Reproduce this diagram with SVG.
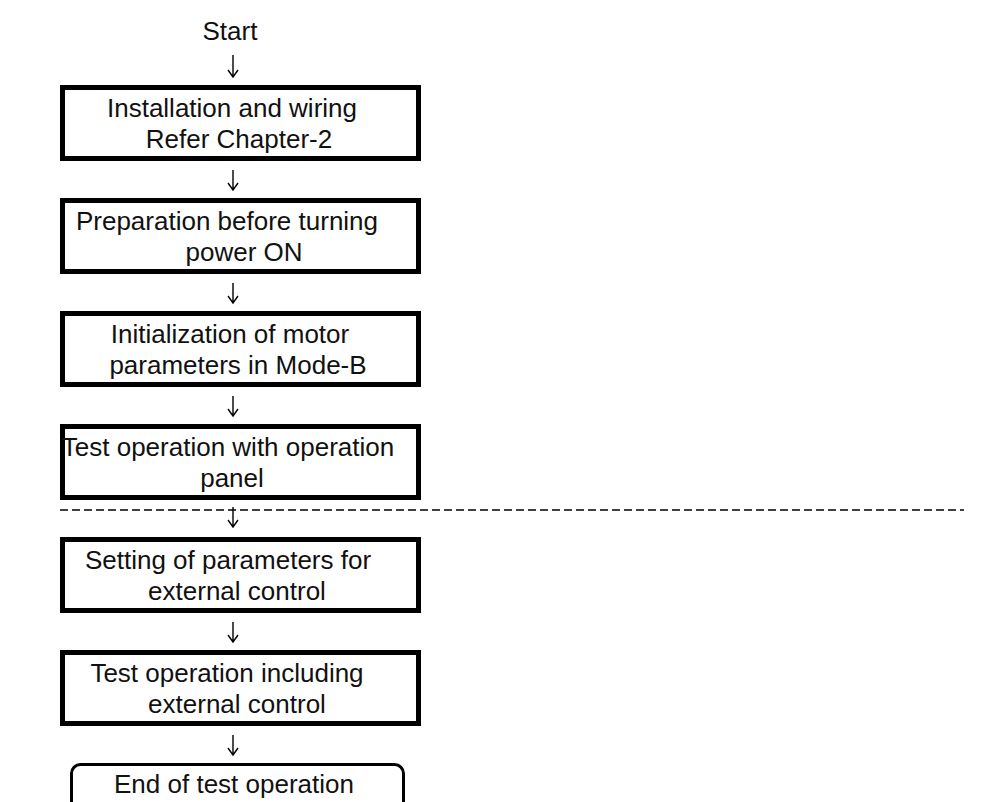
<svg xmlns="http://www.w3.org/2000/svg" width="982" height="802" viewBox="0 0 982 802">
  <style>
    .step { fill: #ffffff; stroke: #000000; stroke-width: 5; }
    .term { fill: #ffffff; stroke: #000000; stroke-width: 3; }
    .lbl { font-family: "Liberation Sans", Arial, sans-serif; font-size: 26px; fill: #111111; text-anchor: middle; }
    .flow { fill: none; stroke: #000000; stroke-width: 1.4; }
    .divider { fill: none; stroke: #000000; stroke-width: 1.3; stroke-dasharray: 8 4; }
  </style>
  <rect width="982" height="802" fill="#ffffff"/>

  <!-- phase divider -->
  <line class="divider" x1="60" y1="510" x2="964" y2="510"/>

  <g id="start">
    <text class="lbl" x="230" y="40">Start</text>
  </g>

  <g id="step-install">
    <rect class="step" x="62.5" y="87.5" width="356" height="71"/>
    <text class="lbl" x="232" y="117">Installation and wiring</text>
    <text class="lbl" x="239" y="148">Refer Chapter-2</text>
  </g>

  <g id="step-prepare">
    <rect class="step" x="62.5" y="200.5" width="356" height="71"/>
    <text class="lbl" x="227" y="230">Preparation before turning</text>
    <text class="lbl" x="244" y="261">power ON</text>
  </g>

  <g id="step-init">
    <rect class="step" x="62.5" y="313.5" width="356" height="71"/>
    <text class="lbl" x="230" y="343">Initialization of motor</text>
    <text class="lbl" x="238" y="374">parameters in Mode-B</text>
  </g>

  <g id="step-panel-test">
    <rect class="step" x="62.5" y="426.5" width="356" height="71"/>
    <text class="lbl" x="228" y="456">Test operation with operation</text>
    <text class="lbl" x="232" y="487">panel</text>
  </g>

  <g id="step-ext-params">
    <rect class="step" x="62.5" y="539.5" width="356" height="71"/>
    <text class="lbl" x="228" y="569">Setting of parameters for</text>
    <text class="lbl" x="237" y="600">external control</text>
  </g>

  <g id="step-ext-test">
    <rect class="step" x="62.5" y="652.5" width="356" height="71"/>
    <text class="lbl" x="227" y="682">Test operation including</text>
    <text class="lbl" x="237" y="713">external control</text>
  </g>

  <g id="end">
    <rect class="term" x="71.5" y="764.5" width="332" height="60" rx="9"/>
    <text class="lbl" x="234" y="793">End of test operation</text>
  </g>

  <g id="connectors">
    <path class="flow" d="M233 55 V77 M228 70 L233 77 L238 70"/>
    <path class="flow" d="M233 170 V190 M228 183 L233 190 L238 183"/>
    <path class="flow" d="M233 283 V303 M228 296 L233 303 L238 296"/>
    <path class="flow" d="M233 396 V416 M228 409 L233 416 L238 409"/>
    <path class="flow" d="M233 507 V527 M228 520 L233 527 L238 520"/>
    <path class="flow" d="M233 622 V642 M228 635 L233 642 L238 635"/>
    <path class="flow" d="M233 735 V755 M228 748 L233 755 L238 748"/>
  </g>
</svg>
